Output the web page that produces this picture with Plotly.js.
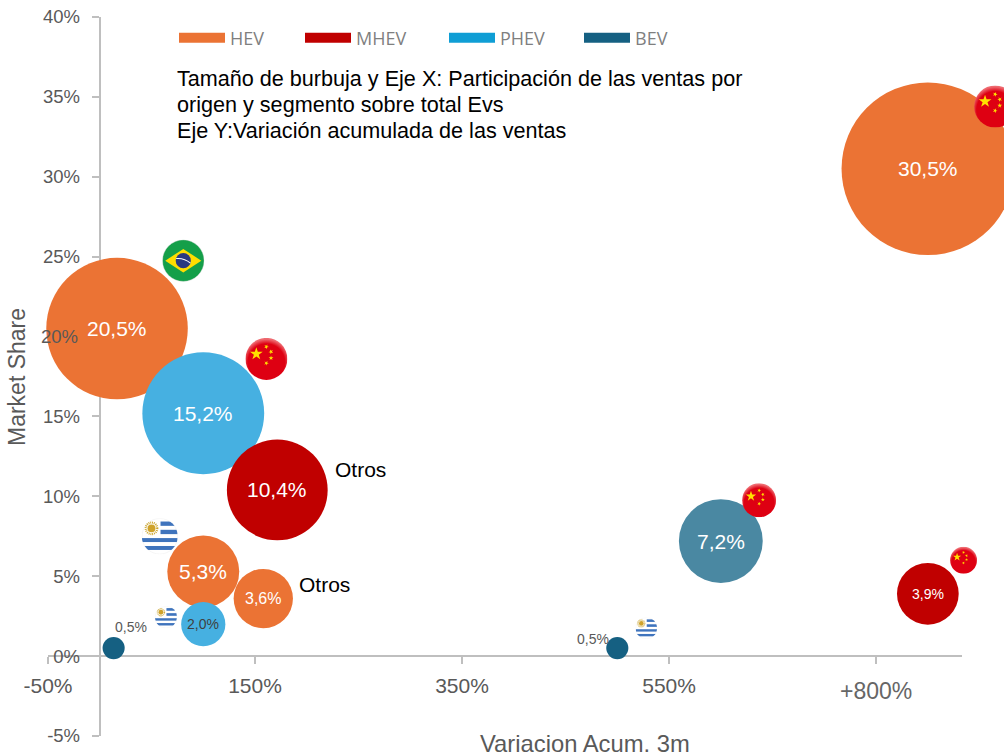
<!DOCTYPE html>
<html>
<head>
<meta charset="utf-8">
<script src="https://cdn.plot.ly/plotly-3.0.1.min.js"></script>
<style>html,body{margin:0;padding:0;background:#fff;overflow:hidden}</style>
</head>
<body>
<div id="chart" style="width:1004px;height:756px"></div>
<script>
// Series data: x = Variacion Acum. 3m (%), y = Market Share (%), share = bubble size (%)
const hevX = [800, 16.7, 100, 158];
const hevY = [30.5, 20.5, 5.3, 3.6];
const phevX = [100, 100];
const phevY = [15.2, 2.0];
const mhevX = [171.5, 800];
const mhevY = [10.4, 3.9];
const bevX = [600, 13.4, 500];
const bevY = [7.2, 0.5, 0.5];

const seriesNames = ['HEV', 'MHEV', 'PHEV', 'BEV'];
const legendColors = ['#EB7334', '#C00000', '#0F9ED5', '#156082'];

const xTickVals = [-50, 150, 350, 550, 750];
const xTickText = ['-50%', '150%', '350%', '550%', ''];
const yTickVals = [-5, 0, 5, 10, 15, 20, 25, 30, 35, 40];
const yTickText = ['-5%', '0%', '5%', '10%', '15%', '', '25%', '30%', '35%', '40%'];

const noteLines = [
  'Tamaño de burbuja y Eje X: Participación de las ventas por',
  'origen y segmento sobre total Evs',
  'Eje Y:Variación acumulada de las ventas'
];

const flagKinds = ['cn', 'br', 'cn', 'uy', 'uy', 'uy', 'cn', 'cn'];
const flagX = [865, 80.7, 161, 58, 64, 528, 637, 834.5];
const flagY = [34.4, 24.75, 18.6, 7.5, 2.44, 1.75, 9.75, 6.0];
const flagPx = [42, 42, 42, 36, 22, 21.5, 34, 27];

const xRange = [-50, 833];
const yRange = [-5, 40];
const margin = {l: 48, r: 42, t: 17, b: 20, pad: 0};
const plotW = 1004 - margin.l - margin.r;
const plotH = 756 - margin.t - margin.b;
const px = v => (v - xRange[0]) / (xRange[1] - xRange[0]);
const py = v => (v - yRange[0]) / (yRange[1] - yRange[0]);

const GRAY = '#595959';
const FONT = 'Liberation Sans, Arial, sans-serif';
const pct = v => v.toFixed(1).replace('.', ',') + '%';
const SIZEREF = 2 / (31.25 * 31.25);

function bubbles(name, xs, ys, colors) {
  return {
    type: 'scatter', mode: 'markers', name, showlegend: false, cliponaxis: false,
    x: xs, y: ys,
    marker: {size: ys, sizemode: 'area', sizeref: SIZEREF, color: colors, opacity: 1, line: {width: 0}},
    hoverinfo: 'x+y'
  };
}

const traces = [
  bubbles('HEV', hevX, hevY, '#EB7334'),
  bubbles('PHEV', phevX, phevY, '#46B0E1'),
  bubbles('MHEV', mhevX, mhevY, '#C00000'),
  bubbles('BEV', bevX, bevY, ['#4A88A2', '#156082', '#156082'])
];

const legendLeft = [174, 300, 444, 579];
const legendCfg = {};
seriesNames.forEach((n, i) => {
  const key = i === 0 ? 'legend' : 'legend' + (i + 1);
  traces.push({
    type: 'scatter', mode: 'lines', name: n, x: [null], y: [null], showlegend: true,
    legend: key,
    line: {color: legendColors[i], width: 12}, hoverinfo: 'skip'
  });
  legendCfg[key] = {
    x: (legendLeft[i] - margin.l) / plotW, y: (756 - margin.b - 38) / plotH,
    xanchor: 'left', yanchor: 'middle', orientation: 'h', itemwidth: 46,
    bgcolor: 'rgba(0,0,0,0)', borderwidth: 0, itemclick: false, itemdoubleclick: false,
    font: {family: 'Open Sans, sans-serif', size: 18, color: '#7F7F7F'}
  };
});

// Round flag artwork
function star(cx, cy, r, rot) {
  let p = [];
  for (let i = 0; i < 10; i++) {
    const rr = i % 2 ? r * 0.382 : r;
    const a = -Math.PI / 2 + i * Math.PI / 5 + (rot || 0);
    p.push((cx + rr * Math.cos(a)).toFixed(2) + ',' + (cy + rr * Math.sin(a)).toFixed(2));
  }
  return `<polygon points="${p.join(' ')}" fill="#FFE000"/>`;
}
const flagSvg = {
  cn: `<svg xmlns="http://www.w3.org/2000/svg" viewBox="0 0 100 100"><defs><radialGradient id="g" cx="50%" cy="58%" r="55%"><stop offset="80%" stop-color="#DE0012"/><stop offset="100%" stop-color="#EE6A70"/></radialGradient></defs><circle cx="50" cy="50" r="50" fill="url(#g)"/>${star(26, 38, 16)}${star(50, 21, 6, .4)}${star(61, 33, 6, .8)}${star(61, 48, 6, 0)}${star(50, 60, 6, .4)}</svg>`,
  br: `<svg xmlns="http://www.w3.org/2000/svg" viewBox="0 0 100 100"><circle cx="50" cy="50" r="49.5" fill="#149F49" stroke="#D9D9D9" stroke-width="1"/><polygon points="7,50 50,22 93,50 50,78" fill="#FFDD00"/><circle cx="50" cy="50" r="18" fill="#2B3A80"/><path d="M33,45 Q52,43 67,56" fill="none" stroke="#fff" stroke-width="2.5"/></svg>`,
  uy: `<svg xmlns="http://www.w3.org/2000/svg" viewBox="0 0 100 100"><defs><clipPath id="c"><circle cx="50" cy="50" r="50"/></clipPath></defs><circle cx="50" cy="50" r="49.5" fill="#fff" stroke="#E5E5E5" stroke-width="1"/><g clip-path="url(#c)" fill="#3F74BD"><rect x="52" y="9" width="48" height="12"/><rect x="52" y="32" width="48" height="12"/><rect x="0" y="55" width="100" height="11"/><rect x="0" y="77" width="100" height="11"/></g><circle cx="27" cy="28" r="16" fill="none" stroke="#C9A227" stroke-width="6" stroke-dasharray="2.5 2.5"/><circle cx="27" cy="28" r="11" fill="#CFA32B"/></svg>`
};
const images = flagKinds.map((k, i) => ({
  source: 'data:image/svg+xml;charset=utf-8,' + encodeURIComponent(flagSvg[k]),
  xref: 'paper', yref: 'paper', x: px(flagX[i]), y: py(flagY[i]),
  sizex: flagPx[i] / plotW, sizey: flagPx[i] / plotH,
  xanchor: 'center', yanchor: 'middle', sizing: 'stretch', layer: 'above'
}));

const txt = (extra) => Object.assign({showarrow: false, borderpad: 0, font: {family: FONT, size: 21, color: '#000'}}, extra);
const label = (x, y, size, color) => txt({x, y, xanchor: 'center', yanchor: 'middle', text: pct(y), font: {family: FONT, size, color}});

const annotations = [
  ...hevX.map((x, i) => label(x, hevY[i], [21, 21, 21, 16][i], '#FFFFFF')),
  ...phevX.map((x, i) => label(x, phevY[i], [21, 14][i], ['#FFFFFF', '#404040'][i])),
  ...mhevX.map((x, i) => label(x, mhevY[i], [21, 14][i], '#FFFFFF')),
  label(bevX[0], bevY[0], 21, '#FFFFFF'),
  ...noteLines.map((t, i) => txt({xref: 'paper', yref: 'paper', x: (176 - margin.l) / plotW, y: (756 - margin.b - 78 - 26 * i) / plotH,
    xanchor: 'left', yanchor: 'middle', align: 'left', font: {family: FONT, size: 21.6, color: '#000'}, text: t})),
  txt({x: 226, y: 11.65, xanchor: 'left', yanchor: 'middle', text: 'Otros'}),
  txt({x: 191.5, y: 4.5, xanchor: 'left', yanchor: 'middle', text: 'Otros'}),
  txt({x: bevX[1], y: bevY[1], xshift: 17.5, yshift: 21, xanchor: 'center', yanchor: 'middle', text: pct(bevY[1]), font: {family: FONT, size: 14, color: GRAY}}),
  txt({x: bevX[2], y: bevY[2], xshift: -24, yshift: 9, xanchor: 'center', yanchor: 'middle', text: pct(bevY[2]), font: {family: FONT, size: 14, color: GRAY}}),
  txt({x: 0, y: 20, xshift: -21, xanchor: 'right', yanchor: 'middle', text: '20%', font: {family: FONT, size: 18.5, color: GRAY}}),
  txt({x: 750, y: 0, yshift: -35, xanchor: 'center', yanchor: 'middle', text: '+800%', font: {family: FONT, size: 23, color: '#666666'}}),
  txt({x: 469, xref: 'x', yref: 'paper', y: (736 - 743) / plotH, yanchor: 'middle', xanchor: 'center', text: 'Variacion Acum. 3m', font: {family: FONT, size: 23.8, color: GRAY}}),
  txt({xref: 'paper', yref: 'paper', x: (17 - margin.l) / plotW, y: (736 - 377) / plotH, textangle: -90, xanchor: 'center', yanchor: 'middle', text: 'Market Share', font: {family: FONT, size: 23, color: GRAY}})
];

const axisCommon = {
  showgrid: false, zeroline: false, showline: true, linecolor: '#BFBFBF', linewidth: 2,
  ticks: 'outside', ticklen: 7, tickwidth: 2, tickcolor: '#BFBFBF', tickmode: 'array',
  anchor: 'free', layer: 'below traces', automargin: false, fixedrange: true
};

const layout = Object.assign({
  width: 1004, height: 756, autosize: false, margin,
  paper_bgcolor: '#fff', plot_bgcolor: '#fff', showlegend: true, hovermode: 'closest',
  font: {family: FONT, color: GRAY},
  xaxis: Object.assign({}, axisCommon, {
    range: xRange, position: py(0), tickvals: xTickVals, ticktext: xTickText,
    tickfont: {size: 21, color: GRAY}, ticklabelstandoff: 4
  }),
  yaxis: Object.assign({}, axisCommon, {
    range: yRange, position: px(0), tickvals: yTickVals, ticktext: yTickText,
    tickfont: {size: 18.5, color: GRAY}, ticklabelstandoff: 8
  }),
  images, annotations
}, legendCfg);

Plotly.newPlot('chart', traces, layout, {displayModeBar: false, responsive: false});
</script>
</body>
</html>
